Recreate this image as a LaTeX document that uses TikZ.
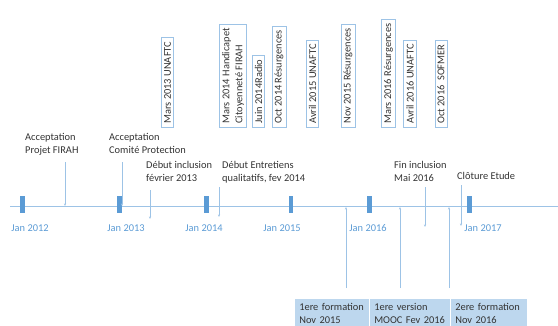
\documentclass[tikz,border=0pt]{standalone}
\usepackage{fontspec}
\setmainfont{Carlito}
\usetikzlibrary{arrows.meta}
\definecolor{lineblue}{HTML}{9DC3E6}
\definecolor{tickblue}{HTML}{5B9BD5}
\definecolor{boxfill}{HTML}{BDD7EE}
\definecolor{txtgrey}{HTML}{333333}

\begin{document}
\begin{tikzpicture}[x=1pt, y=1pt,
    every node/.style={font=\fontsize{10.4}{13}\selectfont},
    event/.style={align=left, inner sep=0pt, anchor=north west, text=txtgrey},
    media/.style={draw=lineblue, line width=0.8pt, rotate=90, anchor=west, fill=white, inner xsep=4pt, inner ysep=2.5pt, align=left, text=txtgrey},
    yeartick/.style={fill=tickblue, inner sep=0pt, minimum width=4.5pt, minimum height=17pt},
    yearlabel/.style={text=tickblue, inner sep=0pt},
    course/.style={fill=boxfill, draw=white, line width=0.6pt, anchor=north west, align=left, text width=65pt, inner xsep=5pt, inner ysep=4pt, minimum height=30pt, text=txtgrey},
    pin/.style={lineblue, line width=0.6pt, -{Stealth[length=2.5pt, width=2pt]}}]
    \useasboundingbox (0,0) rectangle (558,325);

    % Timeline
    \coordinate (tl start) at (10,119);
    \coordinate (tl end) at (558,119);
    \draw[lineblue, line width=0.9pt] (tl start) -- (tl end);
    \foreach \x/\lx/\yr in {22.5/30/2012, 119.5/126/2013, 206.5/204/2014, 291/282/2015, 369.5/368/2016, 469.5/483/2017} {
        \node[yeartick] (tick\yr) at (\x,120.5) {};
        \node[yearlabel] (jan\yr) at (\lx,97) {Jan \yr};
    }

    % Media events (top)
    \node[media] (unaftc13) at (167.5,197) {Mars 2013 UNAFTC};
    \node[media] (firah14) at (233,197) {Mars 2014 Handicapet\\Citoyenneté FIRAH};
    \node[media] (radio14) at (258.5,197) {Juin 2014Radio};
    \node[media] (resurg14) at (279,197) {Oct 2014 Résurgences};
    \node[media] (unaftc15) at (312.5,197) {Avril 2015 UNAFTC};
    \node[media] (resurg15) at (348,197) {Nov 2015 Résurgences};
    \node[media] (resurg16) at (388.5,197) {Mars 2016 Résurgences};
    \node[media] (unaftc16) at (410,197) {Avril 2016 UNAFTC};
    \node[media] (sofmer16) at (441,197) {Oct 2016\ \ SOFMER};

    % Study milestones (above the line)
    \node[event] (projet) at (25,192) {Acceptation\\Projet FIRAH};
    \node[event] (comite) at (109,192) {Acceptation\\Comité Protection};
    \node[event] (incl) at (146,164) {Début inclusion\\février 2013};
    \node[event] (entret) at (222,164) {Début Entretiens\\qualitatifs, fev 2014};
    \node[event] (finincl) at (394,164) {Fin inclusion\\Mai 2016};
    \node[event] (cloture) at (457,153) {Clôture Etude};

    \coordinate (projet top) at (65,163);
    \coordinate (projet end) at (65,119);
    \coordinate (comite top) at (122,163);
    \coordinate (comite end) at (122,119);
    \coordinate (incl top) at (150,135);
    \coordinate (incl end) at (150,106);
    \coordinate (entret top) at (219,138);
    \coordinate (entret end) at (219,108);
    \coordinate (finincl top) at (425,138);
    \coordinate (finincl end) at (425,98);
    \coordinate (cloture top) at (461,140);
    \coordinate (cloture end) at (461,99);
    \foreach \e in {projet, comite, incl, entret, finincl, cloture}
        \draw[pin] (\e\space top) -- (\e\space end);

    % Training sessions (below the line)
    \node[course] (form15) at (294,27) {1ere formation\\Nov 2015};
    \node[course, text width=71pt] (mooc16) at (369,27) {1ere version\\MOOC Fev 2016};
    \node[course, text width=67pt] (form16) at (450,27) {2ere formation\\Nov 2016};

    \coordinate (form15 foot) at (346,37);
    \coordinate (form15 end) at (346,118);
    \coordinate (mooc16 foot) at (400,37);
    \coordinate (mooc16 end) at (400,118);
    \coordinate (form16 foot) at (449,37);
    \coordinate (form16 end) at (449,118);
    \foreach \e in {form15, mooc16, form16}
        \draw[pin] (\e\space foot) -- (\e\space end);
\end{tikzpicture}
\end{document}
